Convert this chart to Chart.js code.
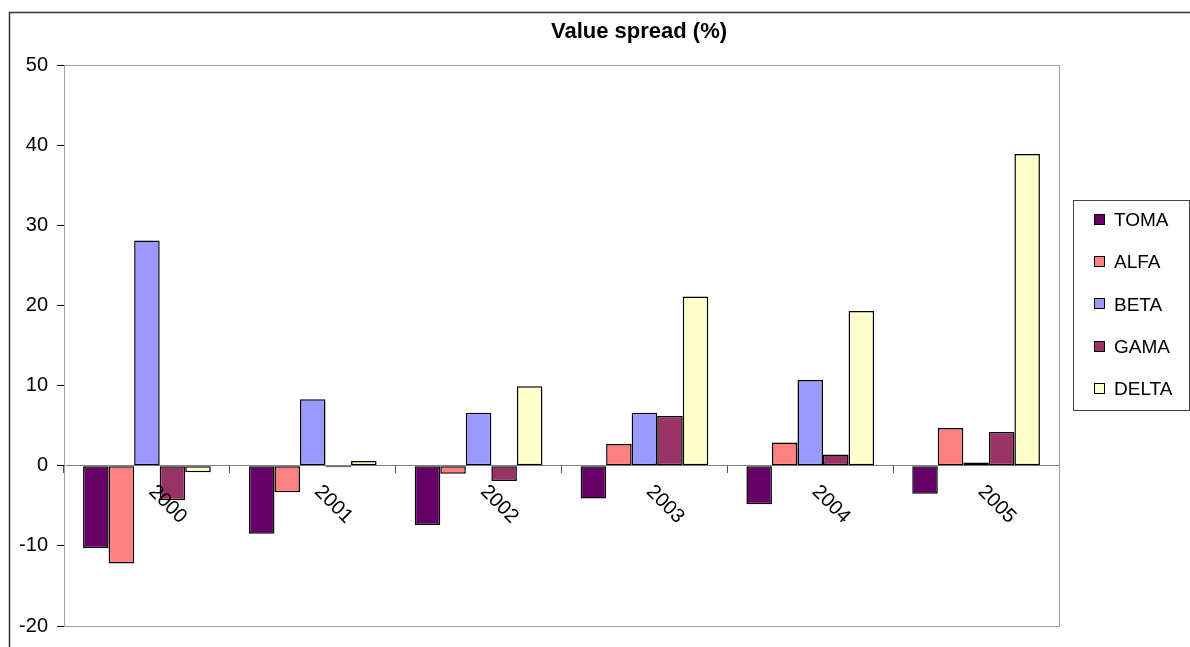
<!DOCTYPE html>
<html>
<head>
<meta charset="utf-8">
<script src="https://cdn.jsdelivr.net/npm/chart.js@4"></script>
<style>
  html, body { margin: 0; padding: 0; background: #fff; }
  canvas { display: block; }
</style>
</head>
<body>
<canvas id="c" width="1190" height="647"></canvas>
<script>
// Years on the category axis
const categories = ['2000', '2001', '2002', '2003', '2004', '2005'];

// Yearly value spread per fund (%)
const toma  = [-10.3, -8.5, -7.4, -4.1, -4.8, -3.5];
const alfa  = [-12.2, -3.3, -1.0,  2.7,  2.9,  4.7];
const beta  = [ 28.1,  8.3,  6.6,  6.6, 10.7,  0.4];
const gama  = [ -4.3, -0.2, -1.9,  6.2,  1.4,  4.2];
const delta = [ -0.8,  0.6,  9.9, 21.1, 19.3, 38.9];

const seriesNames = ['TOMA', 'ALFA', 'BETA', 'GAMA', 'DELTA'];
const seriesColors = ['#660066', '#FF8080', '#9999FF', '#993366', '#FFFFCC'];

// Value axis range
const yMin = -20, yMax = 50, yStep = 10;

const chartTitle = 'Value spread (%)';
const FONT = '"Liberation Sans", Arial, sans-serif';

const seriesData = [toma, alfa, beta, gama, delta];

// Frame, title, year labels and legend box drawn around the plot
const decor = {
  id: 'decor',
  beforeDraw(chart) {
    const ctx = chart.ctx;
    ctx.save();
    ctx.fillStyle = '#fff';
    ctx.fillRect(0, 0, chart.width, chart.height);
    // outer chart border
    ctx.strokeStyle = '#333';
    ctx.lineWidth = 1.5;
    ctx.strokeRect(9.5, 12.5, chart.width + 20, chart.height + 20);
    ctx.restore();
  },
  beforeDatasetsDraw(chart) {
    const ctx = chart.ctx;
    const a = chart.chartArea;
    ctx.save();
    ctx.strokeStyle = '#a0a0a0';
    ctx.lineWidth = 1;
    ctx.strokeRect(Math.round(a.left) + 0.5, Math.round(a.top) + 0.5,
                   Math.round(a.right - a.left), Math.round(a.bottom - a.top));
    ctx.restore();
  },
  afterDraw(chart) {
    const ctx = chart.ctx;
    const xs = chart.scales.x;
    const ys = chart.scales.y;
    ctx.save();
    // title
    ctx.fillStyle = '#000';
    ctx.font = 'bold 22px ' + FONT;
    ctx.textAlign = 'center';
    ctx.textBaseline = 'alphabetic';
    ctx.fillText(chartTitle, 639, 38);

    // year labels, hanging from the zero line and slanting down to the right
    const y0 = ys.getPixelForValue(0);
    ctx.font = '20px ' + FONT;
    ctx.textAlign = 'left';
    ctx.textBaseline = 'middle';
    categories.forEach((c, i) => {
      const x = xs.getPixelForValue(i);
      ctx.save();
      ctx.translate(x + 5, y0 + 23);
      ctx.rotate(Math.PI / 4);
      ctx.fillText(c, 0, 0);
      ctx.restore();
    });

    // legend
    ctx.strokeStyle = '#444';
    ctx.lineWidth = 1;
    ctx.strokeRect(1073.5, 200.5, 116, 210);
    ctx.font = '19px ' + FONT;
    chart.data.datasets.forEach((ds, i) => {
      const cy = 220 + i * 42.2;
      ctx.fillStyle = ds.backgroundColor;
      ctx.fillRect(1094.5, Math.round(cy) - 5.5, 10, 10);
      ctx.strokeStyle = '#000';
      ctx.strokeRect(1094.5, Math.round(cy) - 5.5, 10, 10);
      ctx.fillStyle = '#000';
      ctx.fillText(ds.label, 1114, cy + 1);
    });
    ctx.restore();
  }
};

new Chart(document.getElementById('c'), {
  type: 'bar',
  data: {
    labels: categories,
    datasets: seriesNames.map((name, i) => ({
      label: name,
      data: seriesData[i],
      backgroundColor: seriesColors[i],
      borderColor: '#000',
      borderWidth: 1.5,
      borderSkipped: false,
      categoryPercentage: 0.77,
      barPercentage: 1.0
    }))
  },
  options: {
    responsive: false,
    animation: false,
    devicePixelRatio: 1,
    layout: { padding: { left: 0, top: 65, right: 131, bottom: 17 } },
    plugins: {
      legend: { display: false },
      title: { display: false },
      tooltip: { enabled: false }
    },
    scales: {
      x: {
        position: { y: 0 },
        offset: true,
        grid: { offset: true, drawOnChartArea: false, drawTicks: true, tickLength: 7, color: '#555' },
        border: { display: true, color: '#808080', width: 1 },
        ticks: { display: false },
        afterFit(s) { s.height = 0; }
      },
      y: {
        min: yMin,
        max: yMax,
        ticks: {
          stepSize: yStep,
          color: '#000',
          padding: 9,
          font: { family: FONT, size: 20 }
        },
        grid: { drawOnChartArea: false, drawTicks: true, tickLength: 7, color: '#000' },
        border: { display: true, color: '#000', width: 1 },
        afterFit(s) { s.width = 64; }
      }
    }
  },
  plugins: [decor]
});
</script>
</body>
</html>
